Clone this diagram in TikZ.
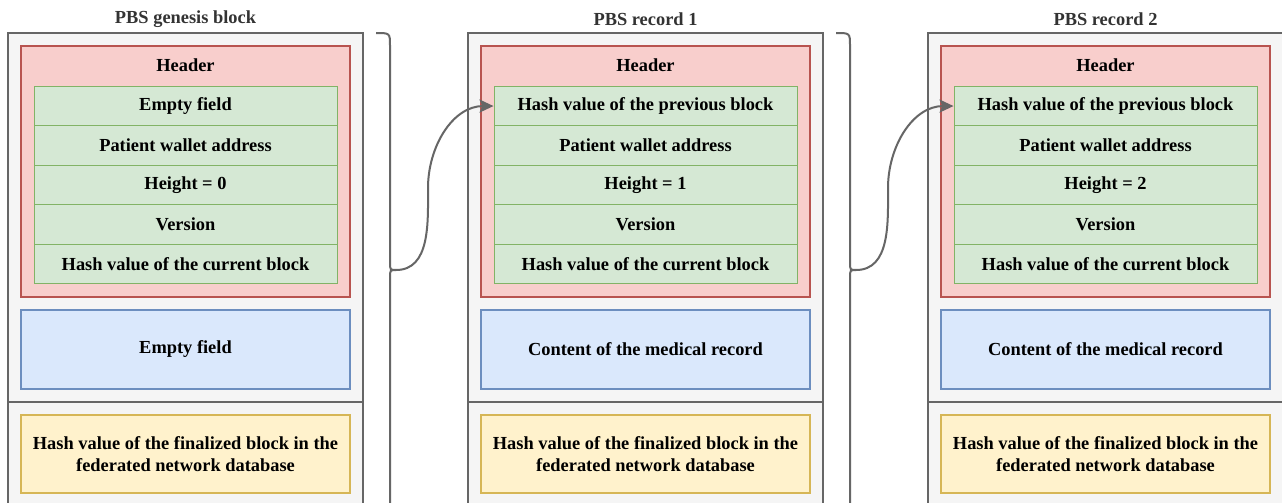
\documentclass[tikz,border=0pt]{standalone}
\usepackage{fontspec}
\setmainfont{Liberation Serif}
\usetikzlibrary{arrows.meta}
\definecolor{grayS}{HTML}{666666}
\definecolor{grayF}{HTML}{F5F5F5}
\definecolor{redS}{HTML}{B85450}
\definecolor{redF}{HTML}{F8CECC}
\definecolor{greenS}{HTML}{82B366}
\definecolor{greenF}{HTML}{D5E8D4}
\definecolor{blueS}{HTML}{6C8EBF}
\definecolor{blueF}{HTML}{DAE8FC}
\definecolor{yelS}{HTML}{D6B656}
\definecolor{yelF}{HTML}{FFF2CC}
\definecolor{titleC}{HTML}{333333}
\begin{document}
\begin{tikzpicture}[x=1pt,y=-1pt,
  every node/.style={font=\fontsize{18.4}{22}\selectfont\bfseries, inner sep=0pt, align=center},
  outerbox/.style={draw=grayS, fill=grayF, line width=2pt, minimum width=355pt, minimum height=474pt},
  hdrbox/.style={draw=redS, fill=redF, line width=2pt, minimum width=329pt, minimum height=250.5pt},
  rowbox/.style={draw=greenS, fill=greenF, line width=1pt, minimum width=303pt, minimum height=39.5pt},
  bodybox/.style={draw=blueS, fill=blueF, line width=2pt, minimum width=329pt, minimum height=79pt},
  finbox/.style={draw=yelS, fill=yelF, line width=2pt, minimum width=329pt, minimum height=78pt},
  titletext/.style={text=titleC},
  bracestyle/.style={draw=grayS, line width=2pt},
  linkarrow/.style={draw=grayS, line width=2pt, -{Stealth[length=14pt,width=13pt,inset=3pt]}}
]
\useasboundingbox (0,0) rectangle (1282,503);
\clip (0,0) rectangle (1282,503);
\fill[white] (0,0) rectangle (1282,503);
\foreach \i/\dx/\ttl/\first/\hh/\cont in {
  1/0/PBS genesis block/Empty field/0/Empty field,
  2/460/PBS record 1/Hash value of the previous block/1/Content of the medical record,
  3/920/PBS record 2/Hash value of the previous block/2/Content of the medical record}{
  \node[titletext] (t\i) at (185.5+\dx,19) {\ttl};
  \node[outerbox] (o\i) at (185.5+\dx,270) {};
  \draw[grayS, line width=2pt] (o\i.west |- 0,402) coordinate (dl\i) -- (o\i.east |- 0,402) coordinate (dr\i);
  \node[hdrbox] (h\i) at (185.5+\dx,171.75) {};
  \node (hl\i) at (185.5+\dx,65) {Header};
  \node[rowbox] (ra\i) at (185.5+\dx,106.05) {\first};
  \node[rowbox] (rb\i) at (185.5+\dx,145.55) {Patient wallet address};
  \node[rowbox] (rc\i) at (185.5+\dx,185.05) {Height = \hh};
  \node[rowbox] (rd\i) at (185.5+\dx,224.55) {Version};
  \node[rowbox] (re\i) at (185.5+\dx,264.05) {Hash value of the current block};
  \node[bodybox] (b\i) at (185.5+\dx,349) {\cont};
  \node[finbox] (f\i) at (185.5+\dx,454) {Hash value of the finalized block in the\\federated network database};
}
% braces
\foreach \i/\bx in {1/376,2/836}{
  \coordinate (bt\i) at (\bx+20,270);
  \coordinate (m\i) at (\bx+52,188);
  \draw[bracestyle] (\bx,33) .. controls (\bx+14,33) .. (\bx+14,46) -- (\bx+14,262) .. controls (\bx+14,270) .. (bt\i);
  \draw[bracestyle] (bt\i) .. controls (\bx+14,270) .. (\bx+14,278) -- (\bx+14,520);
}
\draw[linkarrow] (bt1) to[out=0,in=270] (m1) to[out=90,in=180] (ra2.west);
\draw[linkarrow] (bt2) to[out=0,in=270] (m2) to[out=90,in=180] (ra3.west);
\end{tikzpicture}
\end{document}
